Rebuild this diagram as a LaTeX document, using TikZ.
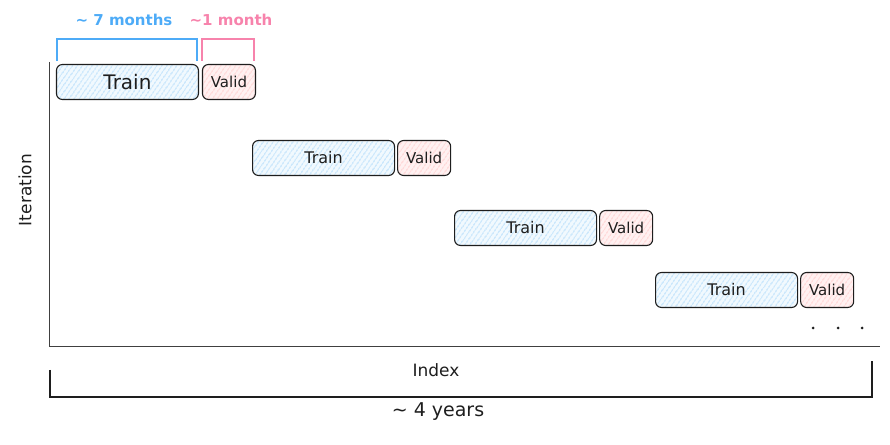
\documentclass[tikz,border=0pt]{standalone}
\usepackage{fontspec}
\setmainfont{DejaVu Sans}
\usetikzlibrary{positioning,patterns.meta}
\definecolor{inkdark}{HTML}{1E1E1E}
\definecolor{bracketblue}{HTML}{4DABF7}
\definecolor{bracketpink}{HTML}{F783AC}
\definecolor{hatchblue}{HTML}{8CCBF9}
\definecolor{hatchred}{HTML}{FFB8B8}
\tikzset{
  trainbox/.style={draw=inkdark, line width=1.1pt, rounded corners=6pt,
    minimum width=142pt, minimum height=35pt, inner sep=0pt,
    text=inkdark, font=\fontsize{16}{18}\selectfont,
    preaction={fill=hatchblue!12},
    pattern={Lines[angle=55,distance=4pt,line width=0.9pt]}, pattern color=hatchblue},
  validbox/.style={draw=inkdark, line width=1.1pt, rounded corners=6pt,
    minimum width=53pt, minimum height=35pt, inner sep=0pt,
    text=inkdark, font=\fontsize{15}{17}\selectfont,
    preaction={fill=hatchred!20},
    pattern={Lines[angle=55,distance=4pt,line width=0.9pt]}, pattern color=hatchred},
  axisline/.style={draw=inkdark!85, line width=1pt},
  label/.style={text=inkdark, font=\fontsize{17}{19}\selectfont}
}
\begin{document}
\begin{tikzpicture}[x=1pt,y=1pt]
\useasboundingbox (0,0) rectangle (890,444);
% axes
\coordinate (origin) at (49,97);
\coordinate (ytop) at (49,382);
\coordinate (xend) at (880,97);
\draw[axisline] (ytop) -- (origin) -- (xend);
\node[label, rotate=90] (ylab) at (25,254) {Iteration};
\node[label] (xlab) at (436,74) {Index};
% train / valid windows
\node[trainbox, anchor=west, font=\fontsize{20}{22}\selectfont] (train1) at (56,362) {Train};
\node[validbox, right=3pt of train1] (valid1) {Valid};
\foreach \i/\x/\y in {2/252/286, 3/454/216, 4/655/154} {
  \node[trainbox, anchor=west] (train\i) at (\x,\y) {Train};
  \node[validbox, right=2pt of train\i] (valid\i) {Valid};
}
% brackets on top
\draw[bracketblue, line width=2pt] ([xshift=1pt,yshift=3pt]train1.north west) -- ++(0,22) -| ([xshift=-2pt,yshift=3pt]train1.north east);
\draw[bracketpink, line width=2pt] ([yshift=3pt]valid1.north west) -- ++(0,22) -| ([xshift=-2pt,yshift=3pt]valid1.north east);
\node[text=bracketblue, font=\bfseries\fontsize{15}{17}\selectfont] (trainspan) at (124,424) {\textasciitilde{} 7 months};
\node[text=bracketpink, font=\bfseries\fontsize{15}{17}\selectfont] (validspan) at (231,424) {\textasciitilde{}1 month};
% more iterations
\foreach \x in {813,838,862}
  \fill[inkdark] (\x,116) circle (1.5pt);
% total span
\coordinate (spanl) at (50,74);
\coordinate (spanr) at (872,83);
\draw[inkdark, line width=2pt] (spanl) |- (spanr |- 0,47) -- (spanr);
\node[label, font=\fontsize{19}{21}\selectfont] (total) at (438,32) {\textasciitilde{} 4 years};
\end{tikzpicture}
\end{document}
